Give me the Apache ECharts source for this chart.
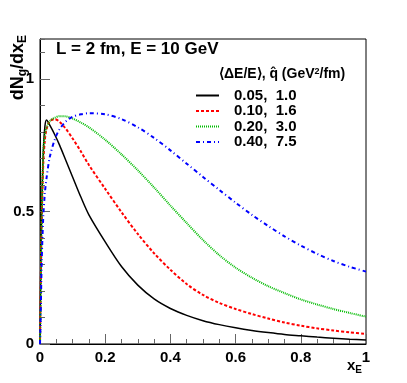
<!DOCTYPE html>
<html>
<head>
<meta charset="utf-8">
<script src="https://cdn.jsdelivr.net/npm/echarts@6/dist/echarts.min.js"></script>
<style>
  html, body { margin: 0; padding: 0; background: #fff; }
  #chart { width: 407px; height: 383px; }
</style>
</head>
<body>
<div id="chart"></div>
<script>
// x_E sample points
const xE = [0, 0.002, 0.005, 0.01, 0.015, 0.02, 0.03, 0.045, 0.06, 0.08, 0.1, 0.125, 0.15,
  0.2, 0.25, 0.3, 0.35, 0.4, 0.45, 0.5, 0.55, 0.6, 0.65, 0.7, 0.75, 0.8, 0.85, 0.9, 0.95, 1.0]

// dN_g/dx_E for each (<dE/E>, qhat)
const s005 = [0, 0.25, 0.5, 0.72, 0.82, 0.845, 0.825, 0.79, 0.75, 0.69, 0.63, 0.555, 0.487,
  0.385, 0.292, 0.222, 0.17, 0.134, 0.108, 0.088, 0.073, 0.061, 0.051, 0.043, 0.036, 0.031, 0.026, 0.022, 0.018, 0.015]
const s010 = [0, 0.2, 0.45, 0.68, 0.77, 0.81, 0.84, 0.848, 0.838, 0.81, 0.775, 0.727, 0.675,
  0.585, 0.497, 0.415, 0.342, 0.28, 0.226, 0.185, 0.155, 0.132, 0.113, 0.096, 0.081, 0.069, 0.059, 0.051, 0.044, 0.038]
const s020 = [0, 0.15, 0.45, 0.72, 0.79, 0.815, 0.84, 0.853, 0.859, 0.858, 0.85, 0.835, 0.817,
  0.77, 0.715, 0.655, 0.59, 0.522, 0.456, 0.392, 0.335, 0.288, 0.25, 0.218, 0.192, 0.168, 0.149, 0.132, 0.117, 0.103]
const s040 = [0, 0.1, 0.3, 0.48, 0.57, 0.625, 0.705, 0.77, 0.81, 0.84, 0.857, 0.866, 0.87,
  0.866, 0.848, 0.817, 0.777, 0.73, 0.68, 0.63, 0.581, 0.533, 0.487, 0.445, 0.406, 0.371, 0.34, 0.313, 0.291, 0.273]

const seriesNames = ['0.05,  1.0', '0.10,  1.6', '0.20,  3.0', '0.40,  7.5']

const font = '"Liberation Sans", Arial, sans-serif'
const chart = echarts.init(document.getElementById('chart'))

function pairs(ys) {
  return xE.map((x, i) => [x, ys[i]])
}

function line(name, ys, color, type, width) {
  return {
    name: name,
    type: 'line',
    data: pairs(ys),
    symbol: 'none',
    smooth: 0.3,
    animation: false,
    lineStyle: { color: color, type: type, width: width },
    itemStyle: { color: color }
  }
}

chart.setOption({
  backgroundColor: '#fff',
  animation: false,
  grid: {
    left: 40, right: 41, top: 39, bottom: 39,
    show: true, borderColor: '#000', borderWidth: 1
  },
  legend: {
    orient: 'vertical',
    left: 190,
    top: 83,
    itemWidth: 23,
    itemHeight: 10,
    itemGap: 0.5,
    itemStyle: { opacity: 0 },
    textStyle: {
      fontFamily: font, fontWeight: 'bold', fontSize: 15, lineHeight: 14,
      color: '#000', padding: [0, 0, 0, 10]
    },
    data: seriesNames
  },
  xAxis: {
    type: 'value',
    min: 0, max: 1, interval: 0.2,
    axisLine: { lineStyle: { color: '#000' } },
    axisTick: { inside: true, length: 10, lineStyle: { color: '#666' } },
    minorTick: { show: true, splitNumber: 4, length: 5, lineStyle: { color: '#666' } },
    splitLine: { show: false },
    axisLabel: {
      margin: 6,
      fontFamily: font, fontWeight: 'bold', fontSize: 15, color: '#000',
      formatter: v => (v === 0 || v === 1) ? String(v) : v.toFixed(1)
    }
  },
  yAxis: [{
    type: 'value',
    min: 0, max: 1.15, interval: 0.5,
    axisLine: { lineStyle: { color: '#000' } },
    axisTick: { inside: true, length: 10, lineStyle: { color: '#666' } },
    splitLine: { show: false },
    axisLabel: {
      margin: 6,
      showMaxLabel: false,
      fontFamily: font, fontWeight: 'bold', fontSize: 15, color: '#000',
      formatter: v => v === 0 ? '0' : v === 0.5 ? '0.5' : v === 1 ? '1' : ''
    }
  }, {
    type: 'value',
    position: 'left',
    min: 0, max: 1.15, interval: 0.1,
    axisLine: { show: false },
    axisTick: { inside: true, length: 5, lineStyle: { color: '#666' } },
    splitLine: { show: false },
    axisLabel: { show: false }
  }],
  graphic: [{
    type: 'text',
    x: 56, y: 41,
    style: {
      text: 'L = 2 fm, E = 10 GeV',
      font: 'bold 17px ' + font,
      fill: '#000'
    }
  }, {
    type: 'text',
    x: 219, y: 67,
    style: {
      text: '⟨ΔE/E⟩, q̂ (GeV{sup|2}/fm)',
      font: 'bold 14px ' + font,
      fill: '#000',
      rich: {
        sup: { font: 'bold 9px ' + font, verticalAlign: 'top', padding: [0, 0, 6, 0] }
      }
    }
  }, {
    type: 'text',
    x: 7, y: 35,
    rotation: Math.PI / 2,
    style: {
      text: 'dN{sub|g}/dx{sub|E}',
      font: 'bold 18px ' + font,
      fill: '#000',
      align: 'right',
      verticalAlign: 'top',
      rich: {
        sub: { font: 'bold 12px ' + font, padding: [10, 0, 0, 0] }
      }
    }
  }, {
    type: 'text',
    right: 45, y: 357,
    style: {
      text: 'x{sub|E}',
      font: 'bold 15px ' + font,
      fill: '#000',
      rich: {
        sub: { font: 'bold 10px ' + font, padding: [8, 0, 0, 0] }
      }
    }
  }],
  series: [
    line(seriesNames[0], s005, '#000000', 'solid', 1.5),
    line(seriesNames[1], s010, '#ff0000', [3, 2], 2),
    line(seriesNames[2], s020, '#00bb00', [1, 1], 2),
    line(seriesNames[3], s040, '#0000ff', [4, 3, 1, 3], 2)
  ]
})
</script>
</body>
</html>
